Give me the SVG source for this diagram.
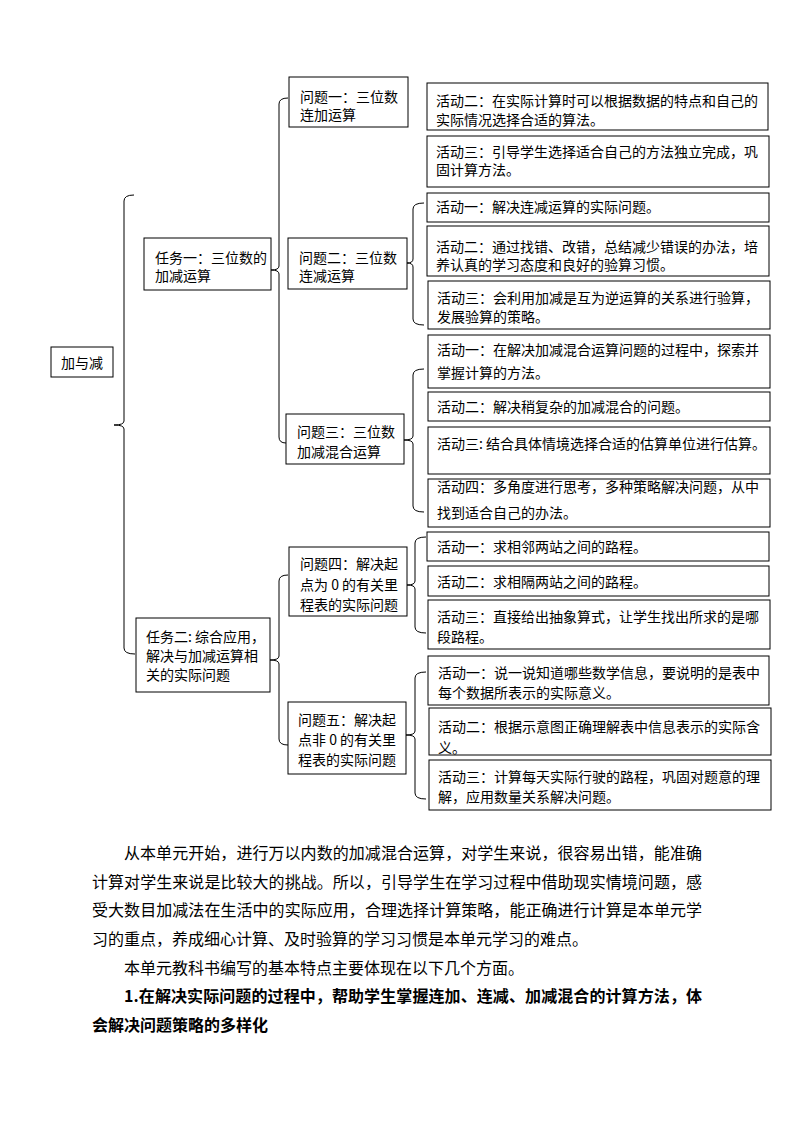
<svg xmlns="http://www.w3.org/2000/svg" width="794" height="1123" viewBox="0 0 794 1123">
<style>
.bx{fill:#fff;stroke:#000;stroke-width:1}
.t{font-family:"Noto Sans CJK SC","Liberation Sans",sans-serif;font-size:14px;fill:#000}
.br{fill:none;stroke:#000;stroke-width:1}
.p{font-family:"Noto Sans CJK SC","Liberation Serif",serif;font-size:16px;fill:#000}
.pb{font-family:"Noto Sans CJK SC","Liberation Serif",serif;font-size:16px;font-weight:bold;fill:#000}
</style>
<rect width="794" height="1123" fill="#fff"/>
<g id="connectors">
<path class="br" d="M134,195 Q124,195 124,201 L124,421 Q124,425 114,425 Q124,425 124,429 L124,648 Q124,654 135,654"/>
<path class="br" d="M288,98 Q279,98 279,104 L279,266 Q279,270 271,270 Q279,270 279,274 L279,437 Q279,443 286,443"/>
<path class="br" d="M424,203 Q413,203 413,209 L413,259 Q413,263 407,263 Q413,263 413,267 L413,319 Q413,325 424,325"/>
<path class="br" d="M424,369 Q413,369 413,375 L413,436 Q413,440 404,440 Q413,440 413,444 L413,506 Q413,512 424,512"/>
<path class="br" d="M288,575 Q279,575 279,581 L279,656 Q279,660 270,660 Q279,660 279,664 L279,739 Q279,745 288,745"/>
<path class="br" d="M426,537 Q415,537 415,543 L415,581 Q415,585 407,585 Q415,585 415,589 L415,627 Q415,633 426,633"/>
<path class="br" d="M426,672 Q415,672 415,678 L415,731 Q415,735 406,735 Q415,735 415,739 L415,793 Q415,799 426,799"/>
</g>
<g id="root"><rect class="bx" x="51" y="347" width="62" height="30"/><text class="t" x="61" y="368">加与减</text></g>
<g id="task1"><rect class="bx" x="144" y="238" width="127" height="52"/><text class="t" x="155" y="263">任务一：三位数的</text><text class="t" x="155" y="281">加减运算</text></g>
<g id="task2"><rect class="bx" x="136" y="618" width="134" height="74"/><text class="t" x="146" y="642">任务二: 综合应用，</text><text class="t" x="146" y="661">解决与加减运算相</text><text class="t" x="146" y="680">关的实际问题</text></g>
<g id="q1"><rect class="bx" x="289" y="77" width="119" height="50"/><text class="t" x="300" y="102">问题一：三位数</text><text class="t" x="300" y="120">连加运算</text></g>
<g id="q2"><rect class="bx" x="288" y="238" width="119" height="51"/><text class="t" x="299" y="263">问题二：三位数</text><text class="t" x="299" y="281">连减运算</text></g>
<g id="q3"><rect class="bx" x="286" y="414" width="118" height="50"/><text class="t" x="297" y="437">问题三：三位数</text><text class="t" x="297" y="457">加减混合运算</text></g>
<g id="q4"><rect class="bx" x="289" y="547" width="118" height="69"/><text class="t" x="300" y="569">问题四：解决起</text><text class="t" x="300" y="590">点为 0 的有关里</text><text class="t" x="300" y="610">程表的实际问题</text></g>
<g id="q5"><rect class="bx" x="288" y="702" width="118" height="72"/><text class="t" x="298" y="725">问题五：解决起</text><text class="t" x="298" y="745">点非 0 的有关里</text><text class="t" x="298" y="765">程表的实际问题</text></g>
<g id="a1"><rect class="bx" x="427" y="83" width="341" height="47"/><text class="t" x="436" y="106">活动二：在实际计算时可以根据数据的特点和自己的</text><text class="t" x="436" y="125">实际情况选择合适的算法。</text></g>
<g id="a2"><rect class="bx" x="427" y="136" width="342" height="51"/><text class="t" x="436" y="157">活动三：引导学生选择适合自己的方法独立完成，巩</text><text class="t" x="436" y="175">固计算方法。</text></g>
<g id="b1"><rect class="bx" x="427" y="193" width="342" height="29"/><text class="t" x="436" y="212">活动一：解决连减运算的实际问题。</text></g>
<g id="b2"><rect class="bx" x="427" y="226" width="342" height="50"/><text class="t" x="436" y="252">活动二：通过找错、改错，总结减少错误的办法，培</text><text class="t" x="436" y="270">养认真的学习态度和良好的验算习惯。</text></g>
<g id="b3"><rect class="bx" x="428" y="281" width="342" height="48"/><text class="t" x="437" y="303">活动三：会利用加减是互为逆运算的关系进行验算，</text><text class="t" x="437" y="322">发展验算的策略。</text></g>
<g id="c1"><rect class="bx" x="428" y="335" width="342" height="53"/><text class="t" x="437" y="355">活动一：在解决加减混合运算问题的过程中，探索并</text><text class="t" x="437" y="378">掌握计算的方法。</text></g>
<g id="c2"><rect class="bx" x="428" y="392" width="342" height="29"/><text class="t" x="437" y="412">活动二：解决稍复杂的加减混合的问题。</text></g>
<g id="c3"><rect class="bx" x="428" y="427" width="342" height="47"/><text class="t" x="437" y="449">活动三: 结合具体情境选择合适的估算单位进行估算。</text></g>
<g id="c4"><rect class="bx" x="428" y="479" width="342" height="48"/><text class="t" x="437" y="492">活动四：多角度进行思考，多种策略解决问题，从中</text><text class="t" x="437" y="518">找到适合自己的办法。</text></g>
<g id="d1"><rect class="bx" x="427" y="532" width="342" height="29"/><text class="t" x="437" y="552">活动一：求相邻两站之间的路程。</text></g>
<g id="d2"><rect class="bx" x="428" y="566" width="341" height="30"/><text class="t" x="437" y="587">活动二：求相隔两站之间的路程。</text></g>
<g id="d3"><rect class="bx" x="428" y="600" width="342" height="49"/><text class="t" x="437" y="622">活动三：直接给出抽象算式，让学生找出所求的是哪</text><text class="t" x="437" y="642">段路程。</text></g>
<g id="e1"><rect class="bx" x="428" y="656" width="341" height="49"/><text class="t" x="438" y="678">活动一：说一说知道哪些数学信息，要说明的是表中</text><text class="t" x="438" y="698">每个数据所表示的实际意义。</text></g>
<g id="e2"><rect class="bx" x="429" y="708" width="342" height="47"/><text class="t" x="438" y="732">活动二：根据示意图正确理解表中信息表示的实际含</text><text class="t" x="438" y="753">义。</text></g>
<g id="e3"><rect class="bx" x="429" y="760" width="342" height="50"/><text class="t" x="438" y="782">活动三：计算每天实际行驶的路程，巩固对题意的理</text><text class="t" x="438" y="802">解，应用数量关系解决问题。</text></g>
<g id="body">
<text class="p" x="124" y="859" textLength="578" lengthAdjust="spacing">从本单元开始，进行万以内数的加减混合运算，对学生来说，很容易出错，能准确</text>
<text class="p" x="92" y="888" textLength="610" lengthAdjust="spacing">计算对学生来说是比较大的挑战。所以，引导学生在学习过程中借助现实情境问题，感</text>
<text class="p" x="92" y="916" textLength="610" lengthAdjust="spacing">受大数目加减法在生活中的实际应用，合理选择计算策略，能正确进行计算是本单元学</text>
<text class="p" x="92" y="945">习的重点，养成细心计算、及时验算的学习习惯是本单元学习的难点。</text>
<text class="p" x="124" y="974">本单元教科书编写的基本特点主要体现在以下几个方面。</text>
<text class="pb" x="124" y="1002" textLength="578" lengthAdjust="spacing">1.在解决实际问题的过程中，帮助学生掌握连加、连减、加减混合的计算方法，体</text>
<text class="pb" x="92" y="1031">会解决问题策略的多样化</text>
</g>
</svg>
